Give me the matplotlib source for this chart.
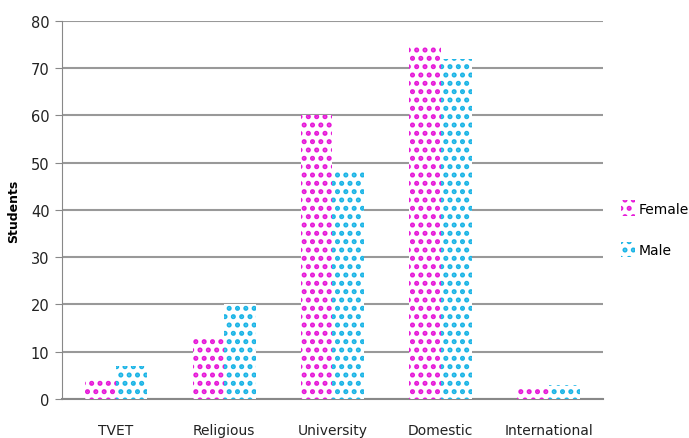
import matplotlib
matplotlib.use("Agg")
import matplotlib.pyplot as plt
import numpy as np

categories = ["TVET", "Religious", "University", "Domestic", "International"]
female = [4, 13, 60, 75, 2]
male = [7, 20, 48, 72, 3]
yticks = [0, 10, 20, 30, 40, 50, 60, 70, 80]

plt.rcParams['font.family'] = ['DejaVu Sans']
plt.rcParams['hatch.linewidth'] = 2.4

fig = plt.figure(figsize=(6.89, 4.39), dpi=100)
ax = fig.add_axes([0.09, 0.089, 0.785, 0.861])

x = np.arange(len(categories))
w = 0.29
fc = "#e619d8"
mc = "#1ab4e6"
ax.bar(x - w/2, female, w, facecolor="white", edgecolor=fc, hatch="..", linewidth=0, label="Female", zorder=3)
ax.bar(x + w/2, male, w, facecolor="white", edgecolor=mc, hatch="..", linewidth=0, label="Male", zorder=3)

ax.set_xlim(-0.5, len(categories) - 0.5)
ax.set_ylim(0, 80)
ax.set_yticks(yticks)
ax.set_xticks(x)
ax.set_xticklabels(categories, fontsize=10, color="#222222")
ax.tick_params(axis='x', length=0, pad=17)
ax.tick_params(axis='y', length=5, color="#888888", labelsize=10.5, pad=4, labelcolor="#222222")
ax.yaxis.grid(True, color="#999999", linewidth=1.5, zorder=0)
for s in ["top", "right"]:
    ax.spines[s].set_visible(False)
ax.spines["left"].set_color("#888888")
ax.spines["bottom"].set_color("#888888")
ax.spines["bottom"].set_linewidth(1.5)
ax.set_ylabel("Students", fontsize=9, fontweight="bold", labelpad=8)

leg = ax.legend(loc="center left", bbox_to_anchor=(1.01, 0.45), frameon=False,
                handlelength=1.0, handleheight=1.3, handletextpad=0.3,
                labelspacing=1.9, fontsize=10)

fig.savefig("out.png", dpi=100)
